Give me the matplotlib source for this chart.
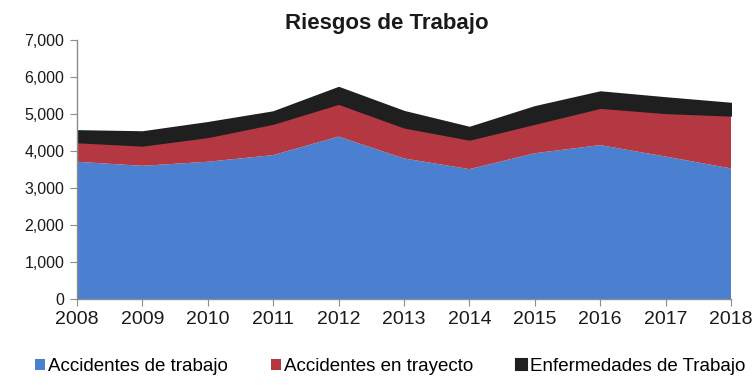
import matplotlib.pyplot as plt
from matplotlib.ticker import FuncFormatter

plt.rcParams['font.family'] = ['Liberation Sans', 'DejaVu Sans']

# Riesgos de trabajo por año
anios = [2008, 2009, 2010, 2011, 2012, 2013, 2014, 2015, 2016, 2017, 2018]
accidentes_trabajo = [3710, 3600, 3710, 3890, 4390, 3800, 3510, 3940, 4160, 3850, 3530]
accidentes_trayecto = [540, 560, 680, 860, 900, 850, 810, 810, 1020, 1190, 1440]
enfermedades = [300, 360, 380, 310, 430, 420, 320, 450, 420, 400, 320]

etiquetas = ['Accidentes de trabajo', 'Accidentes en trayecto', 'Enfermedades de Trabajo']
colores = ['#4b80d0', '#b33842', '#1f1f1f']

fig = plt.figure(figsize=(7.54, 3.85), dpi=100)
ax = fig.add_axes([0.102, 0.2234, 0.8675, 0.6726])

capas = ax.stackplot(anios, accidentes_trabajo, accidentes_trayecto, enfermedades,
                     colors=colores, labels=etiquetas, linewidth=0)
capas[2].set_edgecolor('#1f1f1f')
capas[2].set_linewidth(1.5)

ax.set_xlim(2008, 2018)
ax.set_ylim(0, 7000)
ax.set_xticks(anios)
ax.set_yticks(range(0, 7001, 1000))
ax.yaxis.set_major_formatter(FuncFormatter(lambda v, p: f'{int(v):,}'))

for lado in ['top', 'right']:
    ax.spines[lado].set_visible(False)
for lado in ['left', 'bottom']:
    ax.spines[lado].set_color('#8c8c8c')
    ax.spines[lado].set_linewidth(1)

ax.tick_params(axis='y', length=5, color='#8c8c8c', labelsize=11.5, pad=4, labelcolor='#1a1a1a')
ax.tick_params(axis='x', length=5, color='#8c8c8c', labelsize=14, pad=4, labelcolor='#1a1a1a')

fig.text(0.513, 0.94, 'Riesgos de Trabajo', ha='center', va='center',
         fontsize=16, fontweight='bold', color='#1a1a1a')

fig.legend(loc='center', bbox_to_anchor=(0.517, 0.048), ncol=3, frameon=False,
           fontsize=13.5, handlelength=0.55, handleheight=0.55, handletextpad=0.15,
           columnspacing=2.3, borderaxespad=0, borderpad=0)

fig.savefig('out.png', dpi=100)
